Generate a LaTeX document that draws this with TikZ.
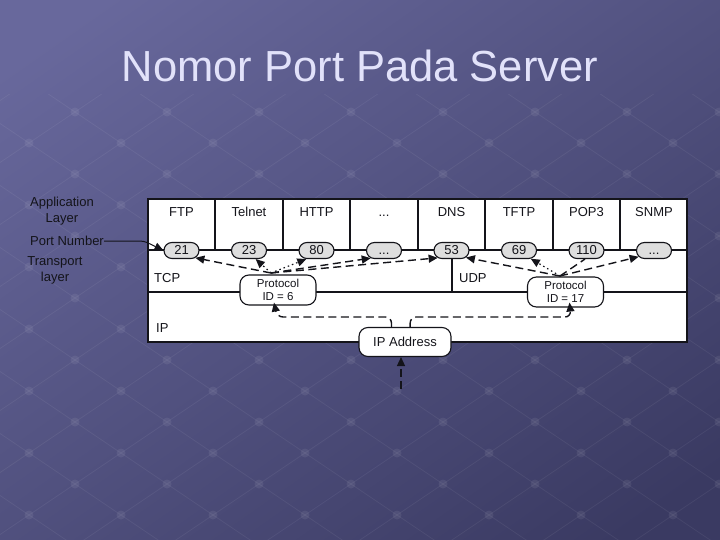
\documentclass[tikz,border=0pt]{standalone}
\usepackage{fontspec}
\setmainfont{Liberation Sans}
\usetikzlibrary{arrows.meta,shapes.misc,calc}
\definecolor{bgA}{RGB}{104,104,156}
\definecolor{bgB}{RGB}{58,58,98}
\definecolor{titlec}{RGB}{226,226,250}
\definecolor{inkc}{RGB}{20,20,26}
\definecolor{portfill}{RGB}{222,222,222}
\begin{document}
\begin{tikzpicture}[x=1pt,y=-1pt,
  every node/.style={text=inkc},
  lbl/.style={font=\fontsize{13}{16}\selectfont, align=center, inner sep=0pt},
  hdr/.style={font=\fontsize{13}{16}\selectfont, inner sep=0pt, anchor=base},
  portov/.style={draw=inkc, rounded rectangle, fill=portfill, minimum width=35pt, minimum height=16pt, inner sep=0pt, text height=9.3pt, text depth=0.5pt, line width=1.1pt, font=\fontsize{13}{15}\selectfont},
  protobox/.style={draw=inkc, fill=white, rounded corners=9pt, minimum width=76pt, minimum height=30pt, align=center, inner sep=1pt, line width=1.1pt, font=\fontsize{11.5}{13}\selectfont},
  ipbox/.style={draw=inkc, fill=white, rounded corners=9pt, minimum width=92pt, minimum height=29pt, inner sep=1pt, line width=1.1pt, font=\fontsize{13}{15}\selectfont},
  tip/.style={-{Triangle[length=9pt,width=8pt]}},
  dashln/.style={draw=inkc, line width=1.4pt, dash pattern=on 8pt off 4.5pt},
  dotln/.style={draw=inkc, line width=1.2pt, dash pattern=on 1.5pt off 3pt},
  rule/.style={draw=inkc, line width=1.1pt},
  gridline/.style={draw=white, opacity=0.06, line width=0.8pt},
  griddot/.style={fill=white, opacity=0.07}
]
\useasboundingbox (0,0) rectangle (720,540);
% background
\shade[top color=bgA, bottom color=bgB, shading angle=35] (-60,-60) rectangle (780,600);
\begin{scope}
  \clip (0,95) rectangle (720,540);
  \foreach \i in {-10,...,14} {
    \draw[gridline] ({75+46*(\i-10)},{360+31*(\i+10)}) -- ({75+46*(\i+16)},{360+31*(\i-16)});
    \draw[gridline] ({75+46*(\i-10)},{360+31*(-10-\i)}) -- ({75+46*(\i+16)},{360+31*(16-\i)});
  }
  \foreach \i in {-10,...,14} {
    \foreach \j in {-10,...,14} {
      \fill[griddot] ({75+46*(\i+\j)},{360+31*(\i-\j)}) circle (4.5pt);
    }
  }
\end{scope}
% title
\node[text=titlec, font=\fontsize{43.5}{50}\selectfont, anchor=base] (title) at (360,82) {Nomor Port Pada Server};
% main box
\fill[white] (148,199) rectangle (687,342);
\foreach \x in {215,283,350,418,485,553,620} { \draw[rule] (\x,199) -- (\x,250); }
\draw[rule] (148,250) -- (687,250);
\draw[rule] (148,292) -- (687,292);
\draw[rule] (452,250) -- (452,292);
\draw[inkc, line width=1.6pt] (148,199) rectangle (687,342);
% application names
\node[hdr] (aFTP) at (181.5,216) {FTP};
\node[hdr] (aTel) at (249,216) {Telnet};
\node[hdr] (aHTTP) at (316.5,216) {HTTP};
\node[hdr] (aDots) at (384,216) {...};
\node[hdr] (aDNS) at (451.5,216) {DNS};
\node[hdr] (aTFTP) at (519,216) {TFTP};
\node[hdr] (aPOP) at (586.5,216) {POP3};
\node[hdr] (aSNMP) at (654,216) {SNMP};
% ports
\node[portov] (p21) at (181.5,250.5) {21};
\node[portov] (p23) at (249,250.5) {23};
\node[portov] (p80) at (316.5,250.5) {80};
\node[portov] (pd1) at (384,250.5) {...};
\node[portov] (p53) at (451.5,250.5) {53};
\node[portov] (p69) at (519,250.5) {69};
\node[portov] (p110) at (586.5,250.5) {110};
\node[portov] (pd2) at (654,250.5) {...};
% layer labels inside
\node[lbl, anchor=west] (tcp) at (154,278) {TCP};
\node[lbl, anchor=west] (udp) at (459,278) {UDP};
\node[lbl, anchor=west] (ip) at (156,328) {IP};
% side labels
\node[lbl] (app) at (62,211.5) {Application\\Layer};
\node[lbl] (pn) at (67,241) {Port Number};
\node[lbl] (tl) at (55,270) {Transport\\layer};
% protocol boxes
\node[protobox] (pr6) at (278,290) {Protocol\\ID = 6};
\node[protobox] (pr17) at (565.5,292) {Protocol\\ID = 17};
\node[ipbox] (ipa) at (405,342) {IP Address};
% hubs
\coordinate (th) at (271,273);
\coordinate (uh) at (560,276);
% TCP arrows
\draw[dashln, tip] (th) -- (p21.-28);
\draw[dotln, tip] (th) -- (p23.-52);
\draw[dotln, tip] (th) -- (p80.-140);
\draw[dashln, tip] (th) -- (pd1.-150);
\draw[dashln, tip] (th) -- (p53.-152);
% UDP arrows
\draw[dashln, tip] (uh) -- (p53.-26);
\draw[dotln, tip] (uh) -- (p69.-35);
\draw[dashln] (uh) -- (p110.-100);
\draw[dashln, tip] (uh) -- (pd2.-158);
% port number pointer
\draw[inkc, line width=1pt, rounded corners=4pt, tip] (pn.east) -- (144,241) -- (p21.west);
% IP address to protocols
\draw[dashln, rounded corners=6pt, tip] (ipa.132) -- ($(ipa.132)+(0,-10)$) -- (277,317) -- ($(pr6.south)+(-4,-3)$);
\draw[dashln, rounded corners=6pt, tip] (ipa.71) -- ($(ipa.71)+(0,-10)$) -- (571,317) -- ($(pr17.south)+(4,-5)$);
% incoming
\coordinate (src) at (401,389);
\draw[dashln, tip] (src) -- (src |- ipa.south);
\end{tikzpicture}
\end{document}
